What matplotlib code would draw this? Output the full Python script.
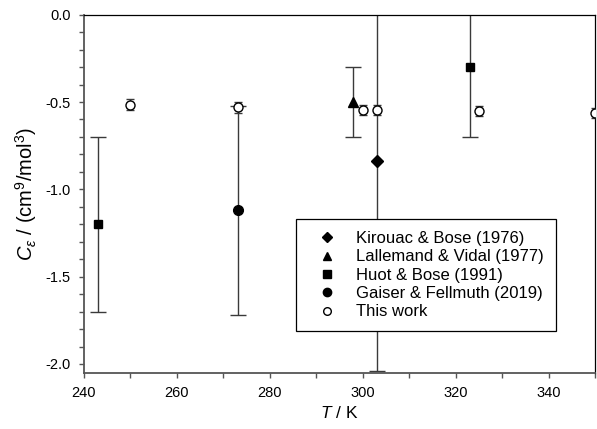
import matplotlib
matplotlib.use("Agg")
import matplotlib.pyplot as plt
from matplotlib.lines import Line2D
from matplotlib.ticker import MultipleLocator

plt.rcParams['font.family'] = ['Liberation Sans', 'DejaVu Sans']
plt.rcParams['mathtext.fontset'] = 'custom'
plt.rcParams['mathtext.rm'] = 'Liberation Sans'
plt.rcParams['mathtext.it'] = 'Liberation Sans:italic'

# Kirouac & Bose (1976)
kb_T = [303.0]
kb_C = [-0.84]
kb_err = [1.2]

# Lallemand & Vidal (1977)
lv_T = [298.0]
lv_C = [-0.50]
lv_err = [0.2]

# Huot & Bose (1991)
hb_T = [243.0, 323.0]
hb_C = [-1.20, -0.30]
hb_err = [0.5, 0.4]

# Gaiser & Fellmuth (2019)
gf_T = [273.16]
gf_C = [-1.12]
gf_err = [0.6]

# This work
tw_T = [250.0, 273.16, 300.0, 303.0, 325.0, 350.0]
tw_C = [-0.515, -0.53, -0.545, -0.545, -0.55, -0.562]
tw_err = [0.03, 0.03, 0.03, 0.03, 0.03, 0.03]

fig = plt.figure(figsize=(5.97, 4.29), dpi=100)
ax = fig.add_axes([0.1407, 0.1312, 0.8559, 0.8345])

ecol = '#3a3a3a'
ebar = dict(ecolor=ecol, elinewidth=1.0, capsize=5.5, capthick=1.0)
ax.errorbar(kb_T, kb_C, yerr=kb_err, fmt='D', color='black', ms=6, **ebar)
ax.errorbar(lv_T, lv_C, yerr=lv_err, fmt='^', color='black', ms=7, **ebar)
ax.errorbar(hb_T, hb_C, yerr=hb_err, fmt='s', color='black', ms=6.3, **ebar)
ax.errorbar(gf_T, gf_C, yerr=gf_err, fmt='o', color='black', ms=7, **ebar)
ax.errorbar(tw_T, tw_C, yerr=tw_err, fmt='o', mfc='white', mec='black',
            mew=1.0, ms=6.5, ecolor=ecol, elinewidth=1.0, capsize=3,
            capthick=1.0, zorder=4)

ax.set_xlim(240, 350)
ax.set_ylim(-2.05, 0.0)
ax.xaxis.set_major_locator(MultipleLocator(20))
ax.xaxis.set_minor_locator(MultipleLocator(10))
ax.yaxis.set_major_locator(MultipleLocator(0.5))
ax.yaxis.set_minor_locator(MultipleLocator(0.1))
ax.yaxis.set_major_formatter(plt.FuncFormatter(lambda v, p: f'{v:.1f}'))

ax.tick_params(which='both', direction='out', length=3.5, width=1.0,
               color='#555555', labelsize=10.5, pad=6)
for side in ['left', 'bottom']:
    ax.spines[side].set_color('#555555')
    ax.spines[side].set_linewidth(1.3)
for side in ['top', 'right']:
    ax.spines[side].set_color('black')
    ax.spines[side].set_linewidth(0.9)

ax.set_xlabel('$T$ / K', fontsize=12.5, labelpad=4)
ax.set_ylabel(r'$C_{\varepsilon}$ / (cm$^9$/mol$^3$)', fontsize=14.5, labelpad=5)

labels = ['Kirouac & Bose (1976)', 'Lallemand & Vidal (1977)',
          'Huot & Bose (1991)', 'Gaiser & Fellmuth (2019)', 'This work']
handles = [
    Line2D([], [], ls='none', marker='D', color='black', ms=5),
    Line2D([], [], ls='none', marker='^', color='black', ms=6),
    Line2D([], [], ls='none', marker='s', color='black', ms=5.5),
    Line2D([], [], ls='none', marker='o', color='black', ms=6),
    Line2D([], [], ls='none', marker='o', mfc='white', mec='black', ms=5.5),
]
leg = ax.legend(handles, labels, loc='upper left', bbox_to_anchor=(0.415, 0.429),
                fontsize=12, frameon=True, fancybox=False, edgecolor='black',
                framealpha=1, handletextpad=0.57, labelspacing=0.2,
                borderpad=0.72, handlelength=2.33, borderaxespad=0)
leg.get_frame().set_linewidth(0.9)
leg.set_zorder(6)

fig.savefig('out.png', dpi=100)
